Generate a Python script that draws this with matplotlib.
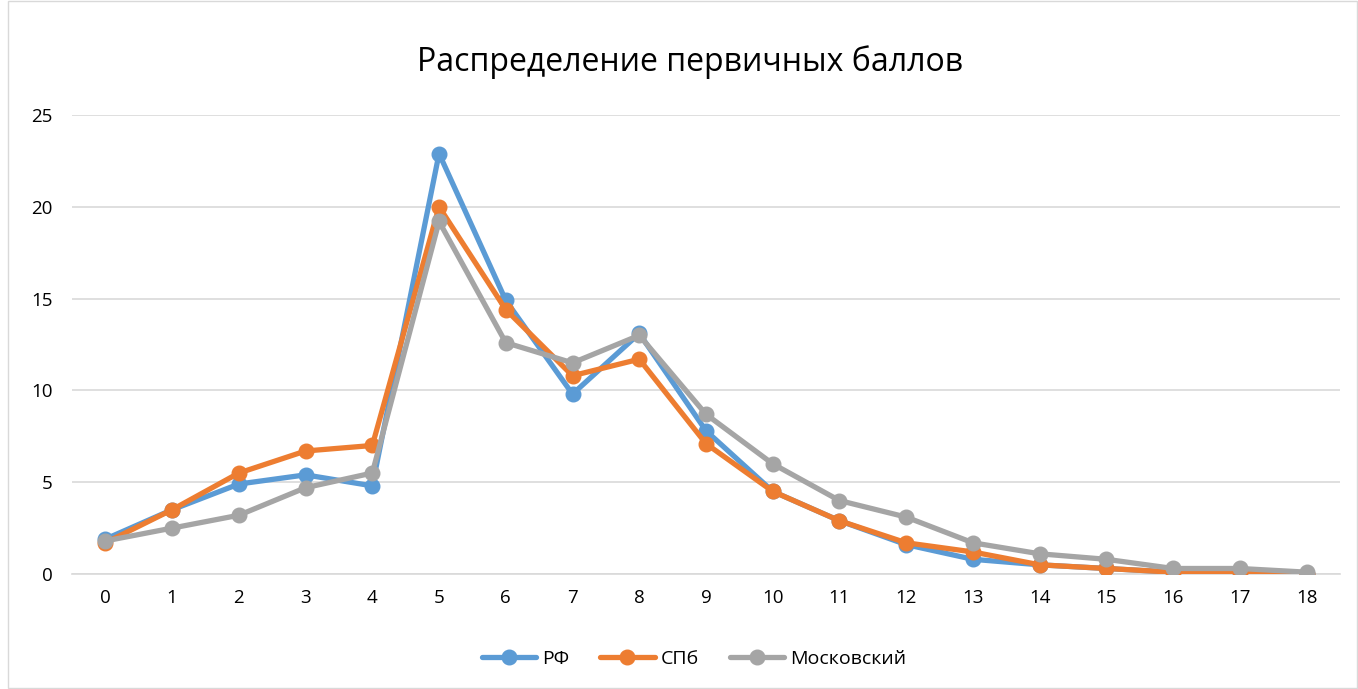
import matplotlib
matplotlib.use("Agg")
import matplotlib.pyplot as plt
from matplotlib.patches import Rectangle

categories = list(range(19))
rf = [1.9, 3.5, 4.9, 5.4, 4.8, 22.9, 14.9, 9.8, 13.1, 7.8, 4.5, 2.9, 1.6, 0.8, 0.5, 0.3, 0.1, 0.1, 0.0]
spb = [1.7, 3.5, 5.5, 6.7, 7.0, 20.0, 14.4, 10.8, 11.7, 7.1, 4.5, 2.9, 1.7, 1.2, 0.5, 0.3, 0.1, 0.1, 0.0]
msk = [1.8, 2.5, 3.2, 4.7, 5.5, 19.2, 12.6, 11.5, 13.0, 8.7, 6.0, 4.0, 3.1, 1.7, 1.1, 0.8, 0.3, 0.3, 0.1]
series_names = ["РФ", "СПб", "Московский"]
colors = ["#5B9BD5", "#ED7D31", "#A5A5A5"]
yticks = [0, 5, 10, 15, 20, 25]

plt.rcParams['font.family'] = ['Open Sans', 'DejaVu Sans']

fig = plt.figure(figsize=(13.58, 6.89), dpi=100)
ax = fig.add_axes([72/1358, 1 - 574/689, (1340 - 72)/1358, (574 - 115)/689])

for vals, name, c in zip([rf, spb, msk], series_names, colors):
    ax.plot(categories, vals, color=c, lw=3.8, marker='o', markersize=10.5,
            label=name, solid_capstyle='round', zorder=3)

ax.set_xlim(-0.5, 18.5)
ax.set_ylim(0, 25)
ax.set_yticks(yticks)
ax.set_xticks(categories)
ax.set_xticklabels([str(c) for c in categories])
ax.grid(axis='y', color='#D9D9D9', lw=1.2)
ax.set_axisbelow(True)
for s in ['top', 'right', 'left']:
    ax.spines[s].set_visible(False)
ax.spines['bottom'].set_color('#D9D9D9')
ax.spines['bottom'].set_linewidth(1.2)
ax.tick_params(axis='both', length=0, labelsize=13.5, colors='#404040', labelcolor='black')
ax.tick_params(axis='x', pad=11)
ax.tick_params(axis='y', pad=14)

fig.text(690/1358, 1 - 62/689, "Распределение первичных баллов", ha='center', va='center', fontsize=23)

fig.legend(loc='center', bbox_to_anchor=(694/1358, 1 - 659/689), ncol=3, frameon=False,
           fontsize=14, handlelength=2.8, columnspacing=1.6, handletextpad=0.3)

fig.add_artist(Rectangle((8/1358, 0.001), 1 - 8/1358 - 0.001, 0.998, transform=fig.transFigure,
                         fill=False, edgecolor='#D9D9D9', lw=1))

fig.savefig("out.png", dpi=100)
